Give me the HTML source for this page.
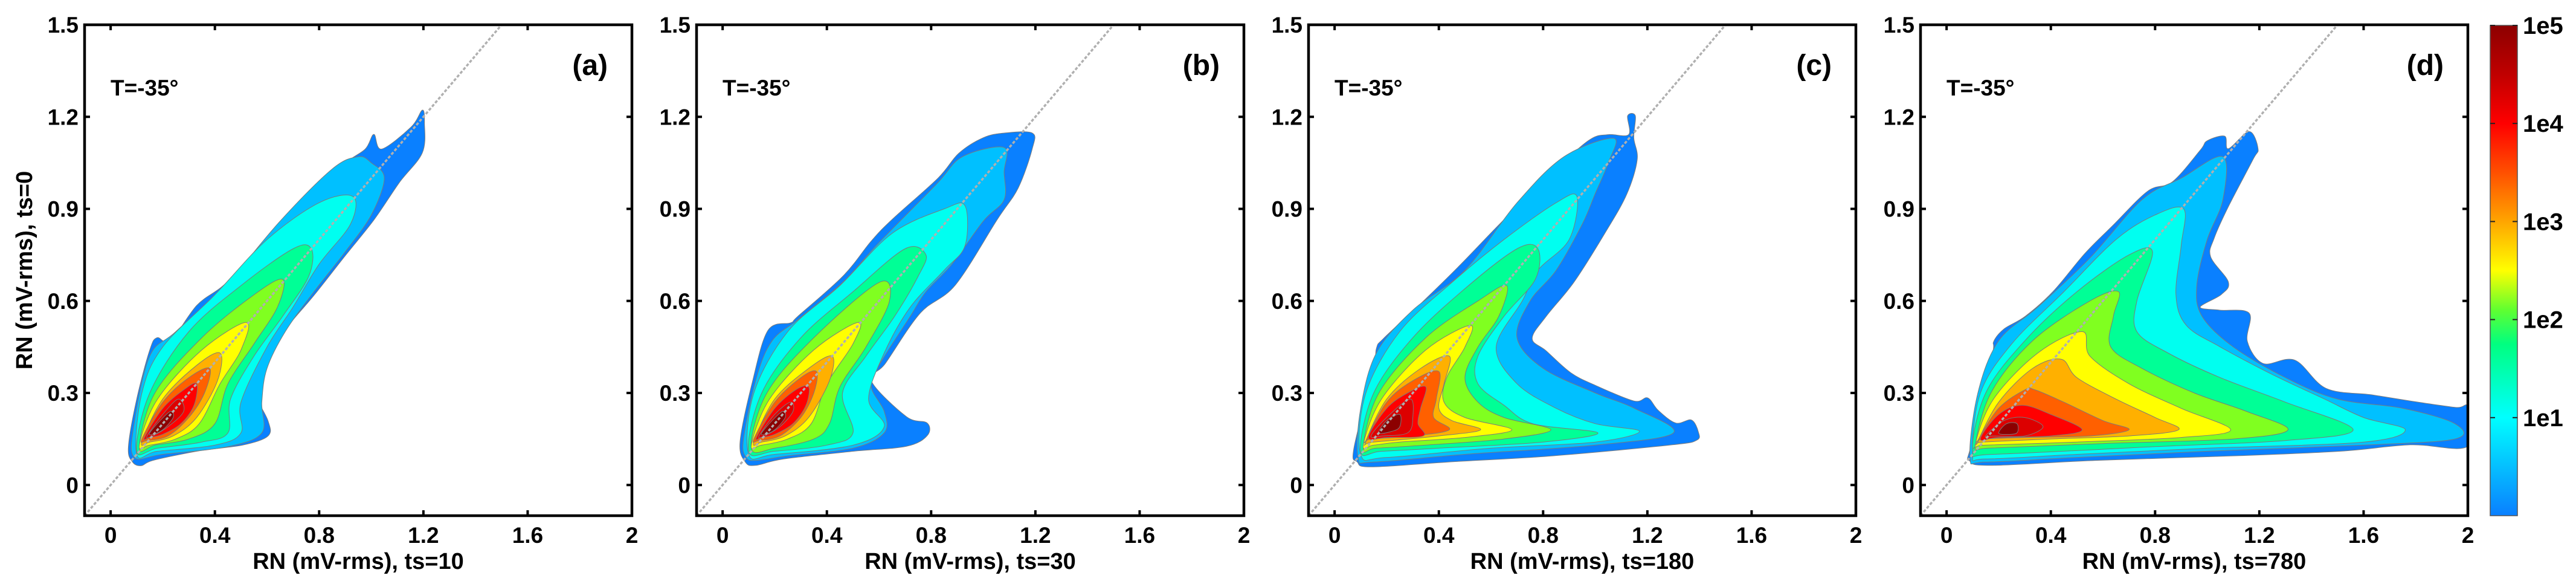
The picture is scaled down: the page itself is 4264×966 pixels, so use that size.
<!DOCTYPE html>
<html><head><meta charset="utf-8"><style>
html,body{margin:0;padding:0;background:#fff;}
svg{display:block;font-family:"Liberation Sans",Arial,sans-serif;font-weight:bold;}
</style></head>
<body>
<svg id="fig" width="4264" height="966" viewBox="0 0 4264 966" xmlns="http://www.w3.org/2000/svg"></svg>
<script>
const levelColors = ["#0a80ff","#00c0ff","#00fff0","#00ff96","#80ff20","#ffff00","#ffb000","#ff6000","#ff0000","#dc0000","#8c0000"];
const panelLabels = ["(a)","(b)","(c)","(d)"];
const xTitles = ["RN (mV-rms), ts=10","RN (mV-rms), ts=30","RN (mV-rms), ts=180","RN (mV-rms), ts=780"];
const xTicks = [0,0.4,0.8,1.2,1.6,2];
const xTickLabels = ["0","0.4","0.8","1.2","1.6","2"];
const yTicks = [0,0.3,0.6,0.9,1.2,1.5];
const yTickLabels = ["0","0.3","0.6","0.9","1.2","1.5"];
const cbTicks = [1,2,3,4,5];
const cbTickLabels = ["1e1","1e2","1e3","1e4","1e5"];

const panelA = [
[[0.084,0.075],[0.068,0.124],[0.10,0.28],[0.15,0.44],[0.178,0.48],[0.23,0.47],[0.33,0.585],[0.425,0.645],[0.52,0.72],[0.636,0.84],[0.75,0.925],[0.896,1.046],[0.977,1.095],[1.01,1.143],[1.04,1.095],[1.153,1.167],[1.196,1.222],[1.204,1.18],[1.196,1.083],[1.107,0.985],[1.01,0.864],[0.896,0.743],[0.782,0.62],[0.653,0.488],[0.588,0.38],[0.58,0.318],[0.555,0.294],[0.604,0.209],[0.604,0.16],[0.506,0.13],[0.344,0.112],[0.166,0.081],[0.117,0.063]],
[[0.09,0.09],[0.09,0.2],[0.15,0.42],[0.25,0.5],[0.45,0.66],[0.65,0.86],[0.85,1.03],[0.95,1.07],[1.0,1.05],[1.05,1.0],[1.0,0.88],[0.9,0.76],[0.78,0.63],[0.67,0.5],[0.6,0.38],[0.58,0.27],[0.58,0.17],[0.45,0.125],[0.2,0.1]],
[[0.1,0.1],[0.12,0.3],[0.2,0.45],[0.4,0.62],[0.6,0.8],[0.8,0.92],[0.93,0.94],[0.92,0.85],[0.8,0.72],[0.7,0.58],[0.6,0.45],[0.5,0.27],[0.5,0.17],[0.4,0.13],[0.18,0.11]],
[[0.1,0.11],[0.15,0.3],[0.3,0.5],[0.5,0.65],[0.7,0.77],[0.77,0.77],[0.76,0.68],[0.66,0.55],[0.55,0.42],[0.46,0.28],[0.45,0.17],[0.35,0.14],[0.18,0.12]],
[[0.11,0.12],[0.17,0.3],[0.35,0.48],[0.55,0.62],[0.66,0.67],[0.64,0.58],[0.55,0.46],[0.45,0.33],[0.4,0.2],[0.3,0.15],[0.17,0.13]],
[[0.11,0.13],[0.18,0.28],[0.35,0.44],[0.52,0.53],[0.5,0.44],[0.42,0.33],[0.34,0.2],[0.25,0.15],[0.15,0.13]],
[[0.12,0.14],[0.2,0.28],[0.33,0.39],[0.42,0.43],[0.41,0.34],[0.33,0.22],[0.24,0.16],[0.15,0.14]],
[[0.12,0.15],[0.2,0.27],[0.3,0.35],[0.38,0.38],[0.36,0.3],[0.3,0.22],[0.22,0.16],[0.14,0.145]],
[[0.13,0.155],[0.2,0.25],[0.28,0.31],[0.33,0.33],[0.32,0.26],[0.27,0.2],[0.2,0.165],[0.15,0.155]],
[[0.14,0.16],[0.2,0.23],[0.26,0.28],[0.28,0.24],[0.22,0.19],[0.16,0.16]],
[[0.15,0.17],[0.19,0.21],[0.23,0.24],[0.24,0.22],[0.2,0.18],[0.16,0.165]]
];
const panelB = [
[[0.087,0.075],[0.067,0.141],[0.114,0.335],[0.174,0.504],[0.262,0.529],[0.289,0.55],[0.463,0.682],[0.57,0.795],[0.651,0.866],[0.826,1.0],[0.906,1.081],[1.0,1.132],[1.08,1.147],[1.188,1.147],[1.188,1.096],[1.134,0.968],[1.054,0.866],[0.893,0.652],[0.758,0.56],[0.624,0.396],[0.57,0.34],[0.705,0.223],[0.785,0.202],[0.785,0.161],[0.705,0.126],[0.503,0.11],[0.235,0.085],[0.127,0.064]],
[[0.09,0.09],[0.08,0.15],[0.13,0.35],[0.19,0.47],[0.29,0.54],[0.46,0.66],[0.6,0.79],[0.82,0.98],[0.92,1.07],[1.08,1.1],[1.08,1.02],[1.08,0.93],[1.0,0.86],[0.88,0.72],[0.78,0.63],[0.72,0.55],[0.6,0.39],[0.57,0.32],[0.62,0.24],[0.62,0.17],[0.5,0.12],[0.25,0.095],[0.13,0.08]],
[[0.1,0.1],[0.12,0.3],[0.25,0.5],[0.45,0.65],[0.65,0.82],[0.85,0.9],[0.93,0.91],[0.93,0.78],[0.85,0.7],[0.72,0.58],[0.62,0.43],[0.56,0.28],[0.62,0.19],[0.5,0.13],[0.2,0.1]],
[[0.1,0.11],[0.15,0.3],[0.3,0.48],[0.5,0.63],[0.7,0.77],[0.78,0.75],[0.75,0.68],[0.66,0.55],[0.55,0.42],[0.46,0.3],[0.5,0.17],[0.4,0.13],[0.2,0.11]],
[[0.11,0.12],[0.17,0.3],[0.35,0.48],[0.6,0.66],[0.64,0.6],[0.55,0.45],[0.45,0.32],[0.41,0.2],[0.35,0.15],[0.2,0.12]],
[[0.11,0.13],[0.18,0.28],[0.35,0.44],[0.52,0.53],[0.5,0.46],[0.4,0.33],[0.34,0.2],[0.25,0.15],[0.15,0.13]],
[[0.12,0.14],[0.2,0.28],[0.33,0.38],[0.42,0.42],[0.41,0.34],[0.33,0.22],[0.24,0.16],[0.15,0.14]],
[[0.12,0.15],[0.2,0.27],[0.3,0.35],[0.36,0.37],[0.35,0.3],[0.3,0.22],[0.22,0.16],[0.14,0.145]],
[[0.13,0.155],[0.2,0.25],[0.28,0.31],[0.33,0.32],[0.32,0.26],[0.27,0.2],[0.2,0.165],[0.15,0.155]],
[[0.14,0.16],[0.2,0.23],[0.26,0.27],[0.27,0.24],[0.22,0.19],[0.16,0.16]],
[[0.15,0.17],[0.19,0.21],[0.23,0.24],[0.24,0.22],[0.2,0.18],[0.16,0.165]]
];
const panelC = [
[[0.087,0.075],[0.074,0.12],[0.148,0.376],[0.161,0.447],[0.188,0.478],[0.329,0.59],[0.477,0.713],[0.651,0.866],[0.826,1.01],[0.973,1.122],[1.047,1.142],[1.128,1.142],[1.124,1.203],[1.154,1.203],[1.148,1.132],[1.161,1.06],[1.121,0.948],[1.04,0.825],[0.919,0.662],[0.812,0.55],[0.758,0.478],[0.812,0.437],[0.906,0.366],[1.0,0.325],[1.148,0.274],[1.201,0.284],[1.242,0.243],[1.309,0.202],[1.369,0.212],[1.396,0.172],[1.389,0.146],[1.295,0.131],[0.839,0.095],[0.436,0.075],[0.141,0.059]],
[[0.09,0.09],[0.1,0.25],[0.16,0.43],[0.3,0.57],[0.5,0.7],[0.7,0.92],[0.88,1.07],[1.07,1.13],[1.05,1.05],[1.0,0.95],[0.95,0.85],[0.85,0.7],[0.75,0.6],[0.7,0.48],[0.8,0.38],[1.0,0.3],[1.15,0.25],[1.3,0.17],[1.0,0.13],[0.5,0.1],[0.15,0.075]],
[[0.1,0.1],[0.12,0.3],[0.25,0.5],[0.45,0.66],[0.65,0.8],[0.85,0.92],[0.93,0.94],[0.9,0.8],[0.78,0.7],[0.72,0.6],[0.62,0.45],[0.7,0.33],[0.85,0.25],[1.0,0.2],[1.17,0.175],[1.0,0.14],[0.6,0.12],[0.2,0.09]],
[[0.1,0.11],[0.15,0.3],[0.3,0.48],[0.5,0.64],[0.7,0.77],[0.78,0.77],[0.77,0.67],[0.65,0.55],[0.55,0.42],[0.55,0.33],[0.65,0.26],[0.76,0.2],[1.01,0.17],[0.8,0.14],[0.4,0.12],[0.18,0.11]],
[[0.11,0.12],[0.17,0.3],[0.35,0.48],[0.55,0.6],[0.66,0.65],[0.63,0.55],[0.55,0.45],[0.5,0.35],[0.55,0.27],[0.65,0.22],[0.83,0.18],[0.65,0.15],[0.35,0.13],[0.16,0.12]],
[[0.11,0.13],[0.18,0.28],[0.35,0.44],[0.52,0.52],[0.5,0.45],[0.43,0.35],[0.42,0.27],[0.5,0.22],[0.68,0.18],[0.5,0.155],[0.25,0.14],[0.15,0.13]],
[[0.12,0.14],[0.2,0.28],[0.33,0.38],[0.44,0.42],[0.42,0.33],[0.4,0.25],[0.45,0.21],[0.56,0.18],[0.4,0.16],[0.15,0.14]],
[[0.12,0.145],[0.2,0.27],[0.3,0.34],[0.4,0.37],[0.39,0.28],[0.38,0.22],[0.44,0.18],[0.3,0.16],[0.14,0.15]],
[[0.13,0.155],[0.2,0.25],[0.28,0.3],[0.35,0.32],[0.33,0.25],[0.32,0.2],[0.34,0.16],[0.2,0.155]],
[[0.14,0.16],[0.2,0.22],[0.29,0.28],[0.3,0.22],[0.28,0.17],[0.18,0.16]],
[[0.17,0.17],[0.2,0.21],[0.25,0.23],[0.25,0.19],[0.22,0.175]]
];
const panelD = [
[[0.087,0.08],[0.094,0.131],[0.174,0.417],[0.181,0.468],[0.221,0.509],[0.302,0.55],[0.409,0.631],[0.53,0.754],[0.638,0.846],[0.772,0.958],[0.866,0.988],[0.973,1.091],[1.0,1.122],[1.067,1.137],[1.081,1.096],[1.161,1.152],[1.195,1.096],[1.175,1.06],[1.081,0.907],[1.027,0.805],[1.013,0.744],[1.081,0.662],[1.054,0.621],[0.973,0.58],[1.047,0.57],[1.161,0.56],[1.154,0.468],[1.215,0.396],[1.336,0.407],[1.456,0.315],[1.631,0.294],[1.779,0.274],[1.953,0.253],[2.0,0.253],[2.0,0.126],[1.779,0.131],[1.51,0.11],[1.107,0.095],[0.57,0.08],[0.168,0.064]],
[[0.09,0.09],[0.12,0.3],[0.2,0.47],[0.35,0.58],[0.55,0.74],[0.75,0.93],[0.9,1.0],[1.06,1.07],[1.06,0.93],[1.0,0.8],[0.96,0.65],[0.98,0.55],[1.1,0.45],[1.3,0.35],[1.5,0.28],[1.75,0.25],[1.95,0.2],[1.95,0.15],[1.6,0.13],[1.0,0.11],[0.5,0.09],[0.15,0.075]],
[[0.1,0.1],[0.13,0.3],[0.25,0.46],[0.45,0.63],[0.65,0.8],[0.8,0.88],[0.91,0.9],[0.9,0.78],[0.88,0.62],[0.92,0.52],[1.05,0.45],[1.25,0.36],[1.45,0.28],[1.6,0.22],[1.76,0.18],[1.6,0.14],[1.0,0.12],[0.5,0.1],[0.15,0.085]],
[[0.1,0.11],[0.15,0.3],[0.3,0.47],[0.5,0.63],[0.7,0.75],[0.79,0.76],[0.73,0.6],[0.73,0.5],[0.85,0.43],[1.05,0.35],[1.3,0.27],[1.56,0.18],[1.3,0.145],[0.8,0.125],[0.18,0.1]],
[[0.11,0.12],[0.17,0.3],[0.33,0.47],[0.55,0.6],[0.66,0.63],[0.64,0.55],[0.63,0.45],[0.75,0.38],[0.95,0.3],[1.15,0.24],[1.31,0.18],[1.1,0.15],[0.6,0.135],[0.16,0.12]],
[[0.11,0.13],[0.18,0.28],[0.35,0.43],[0.52,0.5],[0.55,0.42],[0.7,0.33],[0.9,0.25],[1.09,0.18],[0.9,0.155],[0.5,0.14],[0.15,0.13]],
[[0.12,0.14],[0.2,0.27],[0.33,0.38],[0.44,0.41],[0.5,0.35],[0.65,0.28],[0.8,0.22],[0.89,0.18],[0.7,0.16],[0.4,0.15],[0.14,0.14]],
[[0.12,0.145],[0.2,0.25],[0.3,0.31],[0.34,0.31],[0.45,0.27],[0.6,0.21],[0.7,0.18],[0.55,0.16],[0.3,0.155],[0.14,0.15]],
[[0.13,0.15],[0.2,0.23],[0.29,0.26],[0.4,0.23],[0.52,0.18],[0.4,0.16],[0.2,0.155]],
[[0.15,0.16],[0.22,0.21],[0.3,0.22],[0.37,0.19],[0.3,0.16],[0.18,0.16]],
[[0.2,0.17],[0.23,0.2],[0.27,0.2],[0.27,0.17],[0.23,0.165]]
];
const panels = [panelA, panelB, panelC, panelD];

const NS = "http://www.w3.org/2000/svg";
const svg = document.getElementById('fig');
function el(tag, attrs, parent){
  const e = document.createElementNS(NS, tag);
  for (const k in attrs) e.setAttribute(k, attrs[k]);
  (parent||svg).appendChild(e);
  return e;
}
const PW = 906, PH = 812, PTOP = 41, PSTEP = 1013, PLEFT0 = 140;
const XMIN = -0.1, XMAX = 2.0, YMIN = -0.1, YMAX = 1.5;
function smoothPath(pts, sx, sy){
  const P = pts.map(p => [sx(p[0]), sy(p[1])]);
  const n = P.length;
  let d = "M" + P[0][0].toFixed(1) + "," + P[0][1].toFixed(1);
  for (let i = 0; i < n; i++){
    const p0 = P[(i-1+n)%n], p1 = P[i], p2 = P[(i+1)%n], p3 = P[(i+2)%n];
    const c1x = p1[0] + (p2[0]-p0[0])/6, c1y = p1[1] + (p2[1]-p0[1])/6;
    const c2x = p2[0] - (p3[0]-p1[0])/6, c2y = p2[1] - (p3[1]-p1[1])/6;
    d += "C" + c1x.toFixed(1)+","+c1y.toFixed(1)+" "+c2x.toFixed(1)+","+c2y.toFixed(1)+" "+p2[0].toFixed(1)+","+p2[1].toFixed(1);
  }
  return d + "Z";
}

panels.forEach((levels, pi) => {
  const L = PLEFT0 + pi*PSTEP;
  const sx = v => L + (v - XMIN)/(XMAX - XMIN)*PW;
  const sy = v => PTOP + (YMAX - v)/(YMAX - YMIN)*PH;
  const g = el('g', {});
  
  
  const defs = el('defs', {}, g);
  const cp = el('clipPath', {id: 'clip'+pi}, defs);
  el('rect', {x: L, y: PTOP, width: PW, height: PH}, cp);
  const cg = el('g', {'clip-path': 'url(#clip'+pi+')'}, g);
  levels.forEach((poly, li) => {
    const p = el('path', {d: smoothPath(poly, sx, sy), fill: levelColors[li], stroke: '#7a7a7a', 'stroke-width': 1, 'stroke-linejoin': 'round'}, cg);
    
    
  });
  const diag = el('line', {x1: sx(-0.1), y1: sy(-0.1), x2: sx(1.5), y2: sy(1.5), stroke: '#b0b0b0', 'stroke-width': 3.5, 'stroke-dasharray': '5,3'}, cg);
  
  
  const box = el('rect', {x: L, y: PTOP, width: PW, height: PH, fill: 'none', stroke: '#000', 'stroke-width': 4.5}, g);
  
  
  xTicks.forEach((t, i) => {
    const x = sx(t);
    el('line', {x1: x, y1: PTOP+PH, x2: x, y2: PTOP+PH-9, stroke: '#000', 'stroke-width': 4}, g);
    el('line', {x1: x, y1: PTOP, x2: x, y2: PTOP+9, stroke: '#000', 'stroke-width': 4}, g);
    const tx = el('text', {x: x, y: 898, 'font-size': 37, 'text-anchor': 'middle'}, g);
    tx.textContent = xTickLabels[i];
    
    
  });
  yTicks.forEach((t, i) => {
    const y = sy(t);
    el('line', {x1: L, y1: y, x2: L+9, y2: y, stroke: '#000', 'stroke-width': 4}, g);
    el('line', {x1: L+PW, y1: y, x2: L+PW-9, y2: y, stroke: '#000', 'stroke-width': 4}, g);
    const ty = el('text', {x: L - 10, y: y + 13, 'font-size': 37, 'text-anchor': 'end'}, g);
    ty.textContent = yTickLabels[i];
    
    
  });
  const xt = el('text', {x: L + PW/2, y: 941, 'font-size': 38, 'text-anchor': 'middle'}, g);
  xt.textContent = xTitles[pi];
  
  
  const tl = el('text', {x: L + 43, y: 158, 'font-size': 37}, g);
  tl.textContent = "T=-35°";
  
  
  const pl = el('text', {x: L + PW - 40, y: 124, 'font-size': 48, 'text-anchor': 'end'}, g);
  pl.textContent = panelLabels[pi];
  
  
  if (pi === 0){
    const yt = el('text', {x: 0, y: 0, 'font-size': 38, 'text-anchor': 'middle', transform: 'translate(53,447) rotate(-90)'}, g);
    yt.textContent = "RN (mV-rms), ts=0";
    
    
  }
});

const CBX = 4122, CBW = 45, CBT = 42, CBB = 853;
const cbg = el('g', {});


const cdefs = el('defs', {}, cbg);
const grad = el('linearGradient', {id: 'jet', x1: 0, y1: 1, x2: 0, y2: 0}, cdefs);
const jetStops = [[0,'#0a7fff'],[0.2,'#00ffff'],[0.35,'#00ff80'],[0.42,'#60ff30'],[0.5,'#ffff00'],[0.6,'#ffa500'],[0.7,'#ff5000'],[0.8,'#ff0000'],[0.9,'#c00000'],[1,'#8c0000']];
jetStops.forEach(s => el('stop', {offset: s[0], 'stop-color': s[1]}, grad));
el('rect', {x: CBX, y: CBT, width: CBW, height: CBB-CBT, fill: 'url(#jet)', stroke: '#555', 'stroke-width': 1.5}, cbg);
const cy = v => CBB - v/5*(CBB-CBT);
cbTicks.forEach((t, i) => {
  const y = cy(t);
  el('line', {x1: CBX, y1: y, x2: CBX+8, y2: y, stroke: '#222', 'stroke-width': 2}, cbg);
  el('line', {x1: CBX+CBW, y1: y, x2: CBX+CBW-8, y2: y, stroke: '#222', 'stroke-width': 2}, cbg);
  const t2 = el('text', {x: 4176, y: y + 14, 'font-size': 40}, cbg);
  t2.textContent = cbTickLabels[i];
  
  
});
</script>
</body></html>
